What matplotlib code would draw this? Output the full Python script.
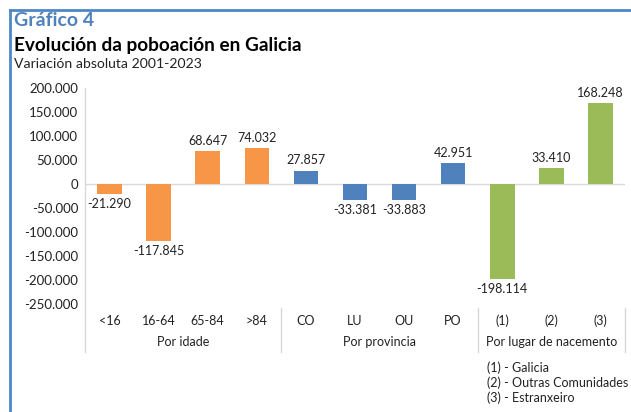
import matplotlib
matplotlib.use("Agg")
import matplotlib.pyplot as plt
from matplotlib.lines import Line2D

# datos
categorias = ["<16", "16-64", "65-84", ">84", "CO", "LU", "OU", "PO", "(1)", "(2)", "(3)"]
valores = [-21290, -117845, 68647, 74032, 27857, -33381, -33883, 42951, -198114, 33410, 168248]
etiquetas = ["-21.290", "-117.845", "68.647", "74.032", "27.857", "-33.381", "-33.883",
             "42.951", "-198.114", "33.410", "168.248"]
grupos = ["Por idade", "Por provincia", "Por lugar de nacemento"]
tam_grupos = [4, 4, 3]
cores_grupos = ["#F79646", "#4F81BD", "#9BBB59"]
yticks = [200000, 150000, 100000, 50000, 0, -50000, -100000, -150000, -200000, -250000]
ytick_lab = ["200.000", "150.000", "100.000", "50.000", "0", "-50.000", "-100.000",
             "-150.000", "-200.000", "-250.000"]
notas = ["(1) - Galicia", "(2) - Outras Comunidades", "(3) - Estranxeiro"]

plt.rcParams["font.family"] = ["Lato", "DejaVu Sans"]

W, H = 631, 412
fig = plt.figure(figsize=(W / 100, H / 100), dpi=100)

# posicion do eixo en pixeles
x0, x1, ytop, ybot = 85, 625, 88, 304
ax = fig.add_axes([x0 / W, 1 - ybot / H, (x1 - x0) / W, (ybot - ytop) / H])

cores = []
for c, n in zip(cores_grupos, tam_grupos):
    cores += [c] * n

xs = list(range(len(categorias)))
ax.bar(xs, valores, width=0.5, color=cores, zorder=3)
ax.axhline(0, color="#d9d9d9", lw=1, zorder=2)

for x, v, t in zip(xs, valores, etiquetas):
    if v >= 0:
        ax.annotate(t, (x, v), xytext=(0, 3), textcoords="offset points",
                    ha="center", va="bottom", fontsize=9, color="#222222")
    else:
        ax.annotate(t, (x, v), xytext=(0, -3), textcoords="offset points",
                    ha="center", va="top", fontsize=9, color="#222222")

ax.set_xlim(-0.5, len(categorias) - 0.5)
ax.set_ylim(-250000, 200000)
ax.set_yticks(yticks)
ax.set_yticklabels(ytick_lab, fontsize=9.5, color="#222222")
ax.tick_params(axis="y", length=0, pad=5)
ax.set_xticks([])
for s in ax.spines.values():
    s.set_visible(False)

# etiquetas de categoria multinivel
tr = ax.get_xaxis_transform()
def fy(py):
    return (ybot - py) / (ybot - ytop)

for x, c in zip(xs, categorias):
    ax.text(x, fy(321), c, transform=tr, ha="center", va="center", fontsize=9, color="#222222")

ini = 0
limites = [-0.5]
for g, n in zip(grupos, tam_grupos):
    ax.text(ini + (n - 1) / 2, fy(342), g, transform=tr, ha="center", va="center",
            fontsize=9, color="#222222")
    ini += n
    limites.append(ini - 0.5)

gris = "#d9d9d9"
ax.plot([-0.5, -0.5], [fy(ytop), fy(352)], transform=tr, color=gris, lw=1, clip_on=False)
for lx in limites[1:]:
    ax.plot([lx, lx], [fy(308), fy(352)], transform=tr, color=gris, lw=1, clip_on=False)

# notas
for i, n in enumerate(notas):
    fig.text(487 / W, 1 - (368 + i * 15) / H, n, ha="left", va="center", fontsize=9,
             color="#222222")

# titulos
fig.text(14 / W, 1 - 21 / H, "Gráfico 4", ha="left", va="center", fontsize=14,
         fontweight="bold", color="#4F81BD")
fig.text(14 / W, 1 - 45 / H, "Evolución da poboación en Galicia", ha="left", va="center",
         fontsize=13.7, fontweight="bold", color="black")
fig.text(14 / W, 1 - 64 / H, "Variación absoluta 2001-2023", ha="left", va="center",
         fontsize=10.1, color="#222222")

# marco azul
azul = "#4F86C6"
fig.add_artist(Line2D([10 / W, 10 / W], [0, 1 - 10 / H], color=azul, lw=2))
fig.add_artist(Line2D([10 / W, 1], [1 - 10 / H, 1 - 10 / H], color=azul, lw=2))

fig.savefig("out.png", dpi=100)
